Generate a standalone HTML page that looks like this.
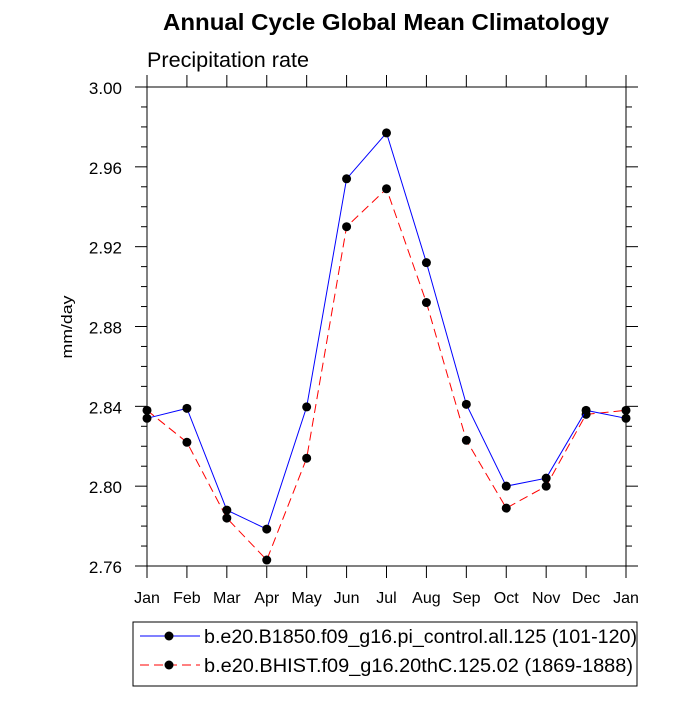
<!DOCTYPE html>
<html><head><meta charset="utf-8"><style>
html,body{margin:0;padding:0;background:#fff;}
svg text{font-family:"Liberation Sans",sans-serif;}
</style></head><body>
<svg id="c" width="700" height="700" xmlns="http://www.w3.org/2000/svg">
<text x="386" y="30" font-size="23" font-weight="bold" text-anchor="middle" textLength="446" lengthAdjust="spacingAndGlyphs">Annual Cycle Global Mean Climatology</text>
<text x="147" y="67" font-size="21" textLength="162" lengthAdjust="spacingAndGlyphs">Precipitation rate</text>
<text transform="translate(72,327) rotate(-90)" font-size="15" text-anchor="middle" textLength="63" lengthAdjust="spacingAndGlyphs">mm/day</text>
<g id="axes"></g>
<g id="series"></g>
<rect x="133" y="622" width="504" height="64" fill="none" stroke="#000" stroke-width="1"/>
<g>
<line x1="140" y1="636" x2="200" y2="636" stroke="#00f" stroke-width="1"/>
<circle cx="169" cy="636" r="4.5" fill="#000"/>
<text x="204" y="643" font-size="19" textLength="433" lengthAdjust="spacingAndGlyphs">b.e20.B1850.f09_g16.pi_control.all.125 (101-120)</text>
</g>
<g>
<line x1="140" y1="665" x2="200" y2="665" stroke="#f00" stroke-width="1" stroke-dasharray="9,5"/>
<circle cx="169" cy="665" r="4.5" fill="#000"/>
<text x="204" y="672" font-size="19" textLength="429" lengthAdjust="spacingAndGlyphs">b.e20.BHIST.f09_g16.20thC.125.02 (1869-1888)</text>
</g>
</svg>
<script>
const months=["Jan","Feb","Mar","Apr","May","Jun","Jul","Aug","Sep","Oct","Nov","Dec","Jan"];
const controlValues=[2.834,2.839,2.788,2.7785,2.8397,2.954,2.977,2.912,2.841,2.800,2.804,2.838,2.834];
const histValues=[2.838,2.822,2.784,2.763,2.814,2.930,2.949,2.892,2.823,2.789,2.800,2.836,2.838];
const yTicks=["2.76","2.80","2.84","2.88","2.92","2.96","3.00"];
const NS="http://www.w3.org/2000/svg";
const L=147,R=626,T=87,B=566,yMin=2.76,yMax=3.00;
const xs=i=>L+(R-L)*i/(months.length-1);
const ys=v=>B-(v-yMin)/(yMax-yMin)*(B-T);
function mk(tag,attrs,parent){const e=document.createElementNS(NS,tag);for(const k in attrs)e.setAttribute(k,attrs[k]);parent.appendChild(e);return e;}
const ax=document.getElementById('axes');
const frame=mk('rect',{x:L,y:T,width:R-L,height:B-T,fill:'none',stroke:'#000','stroke-width':1},ax);


for(let k=0;k<=24;k++){
  const v=yMin+k*0.01,y=ys(v),len=(k%4===0)?12:6;
  mk('line',{x1:L-len,y1:y,x2:L,y2:y,stroke:'#000'},ax);
  mk('line',{x1:R,y1:y,x2:R+len,y2:y,stroke:'#000'},ax);
}
yTicks.forEach(t=>{
  const tx=mk('text',{x:L-25,y:ys(parseFloat(t))+7,'font-size':17,'text-anchor':'end'},ax);
  tx.textContent=t;
  
  
});
months.forEach((m,i)=>{
  const x=xs(i);
  mk('line',{x1:x,y1:B,x2:x,y2:B+12,stroke:'#000'},ax);
  mk('line',{x1:x,y1:T-12,x2:x,y2:T,stroke:'#000'},ax);
  const tx=mk('text',{x:x,y:B+37,'font-size':16,'text-anchor':'middle'},ax);
  tx.textContent=m;
  
  
});
const sg=document.getElementById('series');
function drawSeries(vals,color,dash,name){
  const pts=vals.map((v,i)=>xs(i)+','+ys(v)).join(' ');
  const pl=mk('polyline',{points:pts,fill:'none',stroke:color,'stroke-width':1,'stroke-dasharray':dash},sg);
  
  
  vals.forEach((v,i)=>{
    const c=mk('circle',{cx:xs(i),cy:ys(v),r:4.5,fill:'#000'},sg);
    
    
  });
}
drawSeries(histValues,'#f00','9,5','hist');
drawSeries(controlValues,'#00f','none','control');
</script>
</body></html>
